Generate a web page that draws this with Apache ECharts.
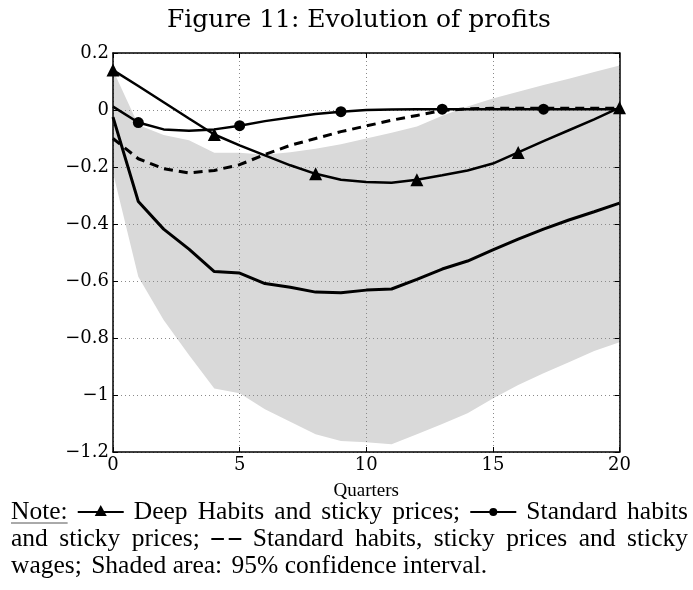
<!DOCTYPE html>
<html>
<head>
<meta charset="utf-8">
<script src="https://cdn.jsdelivr.net/npm/echarts@6/dist/echarts.min.js"></script>
<style>
  html, body { margin: 0; padding: 0; background: #fff; }
  #chart { width: 693px; height: 590px; }
</style>
</head>
<body>
<div id="chart"></div>
<script>
// quarters after the shock
var quarters = [0, 1, 2, 3, 4, 5, 6, 7, 8, 9, 10, 11, 12, 13, 14, 15, 16, 17, 18, 19, 20];

// deep habits and sticky prices (triangles)
var deepHabits = [0.14, 0.084, 0.027, -0.03, -0.086, -0.124, -0.159, -0.194, -0.224, -0.245, -0.253,
                  -0.255, -0.245, -0.229, -0.212, -0.188, -0.149, -0.109, -0.071, -0.033, 0.008];
var deepMarks = [0, 4, 8, 12, 16, 20];

// standard habits and sticky prices (dots)
var stdHabits = [0.012, -0.044, -0.068, -0.073, -0.068, -0.055, -0.039, -0.026, -0.014, -0.006, 0,
                 0.002, 0.003, 0.003, 0.003, 0.003, 0.003, 0.003, 0.003, 0.003, 0.003];
var stdMarks = [1, 5, 9, 13, 17];

// standard habits, sticky prices and sticky wages (dashed)
var stickyWages = [-0.1, -0.171, -0.206, -0.221, -0.212, -0.192, -0.156, -0.124, -0.1, -0.076, -0.056,
                   -0.036, -0.019, -0.002, 0.004, 0.006, 0.006, 0.006, 0.006, 0.006, 0.006];

// estimated response (thick solid line)
var estimate = [-0.025, -0.321, -0.418, -0.488, -0.567, -0.572, -0.609, -0.622, -0.639, -0.641, -0.632,
                -0.628, -0.594, -0.558, -0.53, -0.491, -0.453, -0.418, -0.386, -0.357, -0.327];

// 95% confidence band
var ciUpper = [0.14, -0.053, -0.088, -0.106, -0.15, -0.15, -0.157, -0.148, -0.136, -0.12, -0.1,
               -0.08, -0.058, -0.02, 0.012, 0.04, 0.064, 0.088, 0.11, 0.133, 0.156];
var ciLower = [-0.22, -0.585, -0.737, -0.86, -0.977, -0.994, -1.05, -1.094, -1.138, -1.161, -1.166,
               -1.173, -1.138, -1.102, -1.064, -1.012, -0.965, -0.924, -0.885, -0.846, -0.815];

var yTicks = { min: -1.2, max: 0.2, step: 0.2 };
var xTicks = { min: 0, max: 20, step: 5 };

var serif = 'DejaVu Serif';
var noteFont = '25.5px "Liberation Serif"';

function pairs(arr){
    return quarters.map(function(q, i){ return [q, arr[i]]; });
}

function markSymbol(marks, name){
    return function(val, params){
        return marks.indexOf(params.dataIndex) >= 0 ? name : 'none';
    };
}

function yLabel(v){
    var r = Math.round(v * 10) / 10;
    if (r === 0) return '0';
    return String(r).replace('-', '\u2212');
}

// --- note under the chart, set as a justified paragraph ---
var measure = document.createElement('canvas').getContext('2d');
measure.font = noteFont;

function iconTriangle(x, y, w){
    return [
        { type: 'line', shape: { x1: x, y1: y, x2: x + w, y2: y }, style: { stroke: '#000', lineWidth: 2 } },
        { type: 'polygon', shape: { points: [[x + w / 2, y - 7], [x + w / 2 - 6, y + 4], [x + w / 2 + 6, y + 4]] }, style: { fill: '#000' } }
    ];
}
function iconDot(x, y, w){
    return [
        { type: 'line', shape: { x1: x, y1: y, x2: x + w, y2: y }, style: { stroke: '#000', lineWidth: 2 } },
        { type: 'circle', shape: { cx: x + w / 2, cy: y, r: 4 }, style: { fill: '#000' } }
    ];
}
function iconDash(x, y, w){
    return [
        { type: 'line', shape: { x1: x, y1: y, x2: x + w * 0.42, y2: y }, style: { stroke: '#000', lineWidth: 2 } },
        { type: 'line', shape: { x1: x + w * 0.58, y1: y, x2: x + w, y2: y }, style: { stroke: '#000', lineWidth: 2 } }
    ];
}

// items: strings (words) or {icon, w}; spread from x0 to x1 (or natural spacing if x1 is null)
function setLine(items, x0, x1, y){
    var widths = items.map(function(it){ return typeof it === 'string' ? measure.measureText(it).width : it.w; });
    var total = widths.reduce(function(a, b){ return a + b; }, 0);
    var natural = measure.measureText(' ').width;
    var gap = x1 == null ? natural : (x1 - x0 - total) / (items.length - 1);
    var out = [], x = x0;
    items.forEach(function(it, i){
        var extra = 0;
        if (typeof it === 'string') {
            out.push({ type: 'text', x: x, y: y,
                       style: { text: it, font: noteFont, fill: '#000', verticalAlign: 'middle' } });
            if (it === 'Note:') {
                out.push({ type: 'line', shape: { x1: x, y1: y + 11, x2: x + widths[i], y2: y + 11 },
                           style: { stroke: '#555', lineWidth: 1 } });
            }
            // a little more room after ; and : as in TeX
            if (x1 == null && /[;:]$/.test(it)) extra = 3;
        } else {
            out = out.concat(it.icon(x, y, it.w));
        }
        x += widths[i] + gap + extra;
    });
    return out;
}

var row1 = 512, row2 = 539, row3 = 566;
var note = [].concat(
    setLine(['Note:', { icon: iconTriangle, w: 46 }, 'Deep', 'Habits', 'and', 'sticky', 'prices;',
             { icon: iconDot, w: 46 }, 'Standard', 'habits'], 11, 688, row1),
    setLine(['and', 'sticky', 'prices;', { icon: iconDash, w: 30 }, 'Standard', 'habits,', 'sticky',
             'prices', 'and', 'sticky'], 11, 688, row2),
    setLine(['wages;', 'Shaded', 'area:', '95%', 'confidence', 'interval.'], 11, null, row3)
);

var chart = echarts.init(document.getElementById('chart'));

var frameLine = { show: true, onZero: false, lineStyle: { color: '#000', width: 1.5 } };
var inTick = { show: true, inside: true, length: 5, lineStyle: { color: '#000', width: 1 } };
var dotGrid = { show: true, lineStyle: { color: '#8a8a8a', type: [1, 3], width: 1 } };

var option = {
    animation: false,
    backgroundColor: '#fff',
    title: {
        text: 'Figure 11: Evolution of profits',
        left: 162,
        top: 3,
        textStyle: { fontFamily: serif, fontSize: 25, fontWeight: 'normal', color: '#000' }
    },
    grid: { left: 113, right: 73.5, top: 53, bottom: 138 },
    xAxis: [{
        type: 'value',
        position: 'bottom',
        min: xTicks.min, max: xTicks.max, interval: xTicks.step,
        z: 2,
        axisLine: frameLine,
        axisTick: inTick,
        splitLine: dotGrid,
        axisLabel: { fontFamily: serif, fontSize: 18, color: '#000', margin: 4 },
        name: 'Quarters',
        nameLocation: 'middle',
        nameGap: 30,
        nameTextStyle: { fontFamily: 'Liberation Serif', fontSize: 19, color: '#000' }
    }, {
        type: 'value',
        position: 'top',
        min: xTicks.min, max: xTicks.max, interval: xTicks.step,
        z: 2,
        axisLine: frameLine,
        axisTick: inTick,
        axisLabel: { show: false },
        splitLine: { show: false }
    }],
    yAxis: [{
        type: 'value',
        position: 'left',
        min: yTicks.min, max: yTicks.max, interval: yTicks.step,
        z: 2,
        axisLine: frameLine,
        axisTick: inTick,
        splitLine: dotGrid,
        axisLabel: { fontFamily: serif, fontSize: 18, color: '#000', margin: 4, formatter: yLabel }
    }, {
        type: 'value',
        position: 'right',
        min: yTicks.min, max: yTicks.max, interval: yTicks.step,
        z: 2,
        axisLine: frameLine,
        axisTick: inTick,
        axisLabel: { show: false },
        splitLine: { show: false }
    }],
    series: [{
        name: '95% confidence interval',
        type: 'custom',
        z: 1,
        silent: true,
        data: quarters.map(function(q, i){ return [q, ciLower[i], ciUpper[i]]; }),
        encode: { x: 0, y: [1, 2] },
        renderItem: function(params, api){
            if (params.dataIndex !== 0) return;
            var pts = [];
            for (var i = 0; i < quarters.length; i++) pts.push(api.coord([quarters[i], ciUpper[i]]));
            for (var j = quarters.length - 1; j >= 0; j--) pts.push(api.coord([quarters[j], ciLower[j]]));
            return { type: 'polygon', shape: { points: pts }, style: { fill: '#d9d9d9' } };
        }
    }, {
        name: 'Estimate',
        type: 'line',
        z: 3,
        data: pairs(estimate),
        symbol: 'none',
        lineStyle: { color: '#000', width: 3 }
    }, {
        name: 'Standard habits, sticky prices and sticky wages',
        type: 'line',
        z: 3,
        data: pairs(stickyWages),
        symbol: 'none',
        lineStyle: { color: '#000', width: 3, type: [9, 6] }
    }, {
        name: 'Standard habits and sticky prices',
        type: 'line',
        z: 4,
        data: pairs(stdHabits),
        showAllSymbol: true,
        symbol: markSymbol(stdMarks, 'circle'),
        symbolSize: 11,
        itemStyle: { color: '#000' },
        lineStyle: { color: '#000', width: 2.5 }
    }, {
        name: 'Deep Habits and sticky prices',
        type: 'line',
        z: 4,
        data: pairs(deepHabits),
        showAllSymbol: true,
        symbol: markSymbol(deepMarks, 'triangle'),
        symbolSize: 13,
        itemStyle: { color: '#000' },
        lineStyle: { color: '#000', width: 2.5 }
    }],
    graphic: note
};

chart.setOption(option);
</script>
</body>
</html>
